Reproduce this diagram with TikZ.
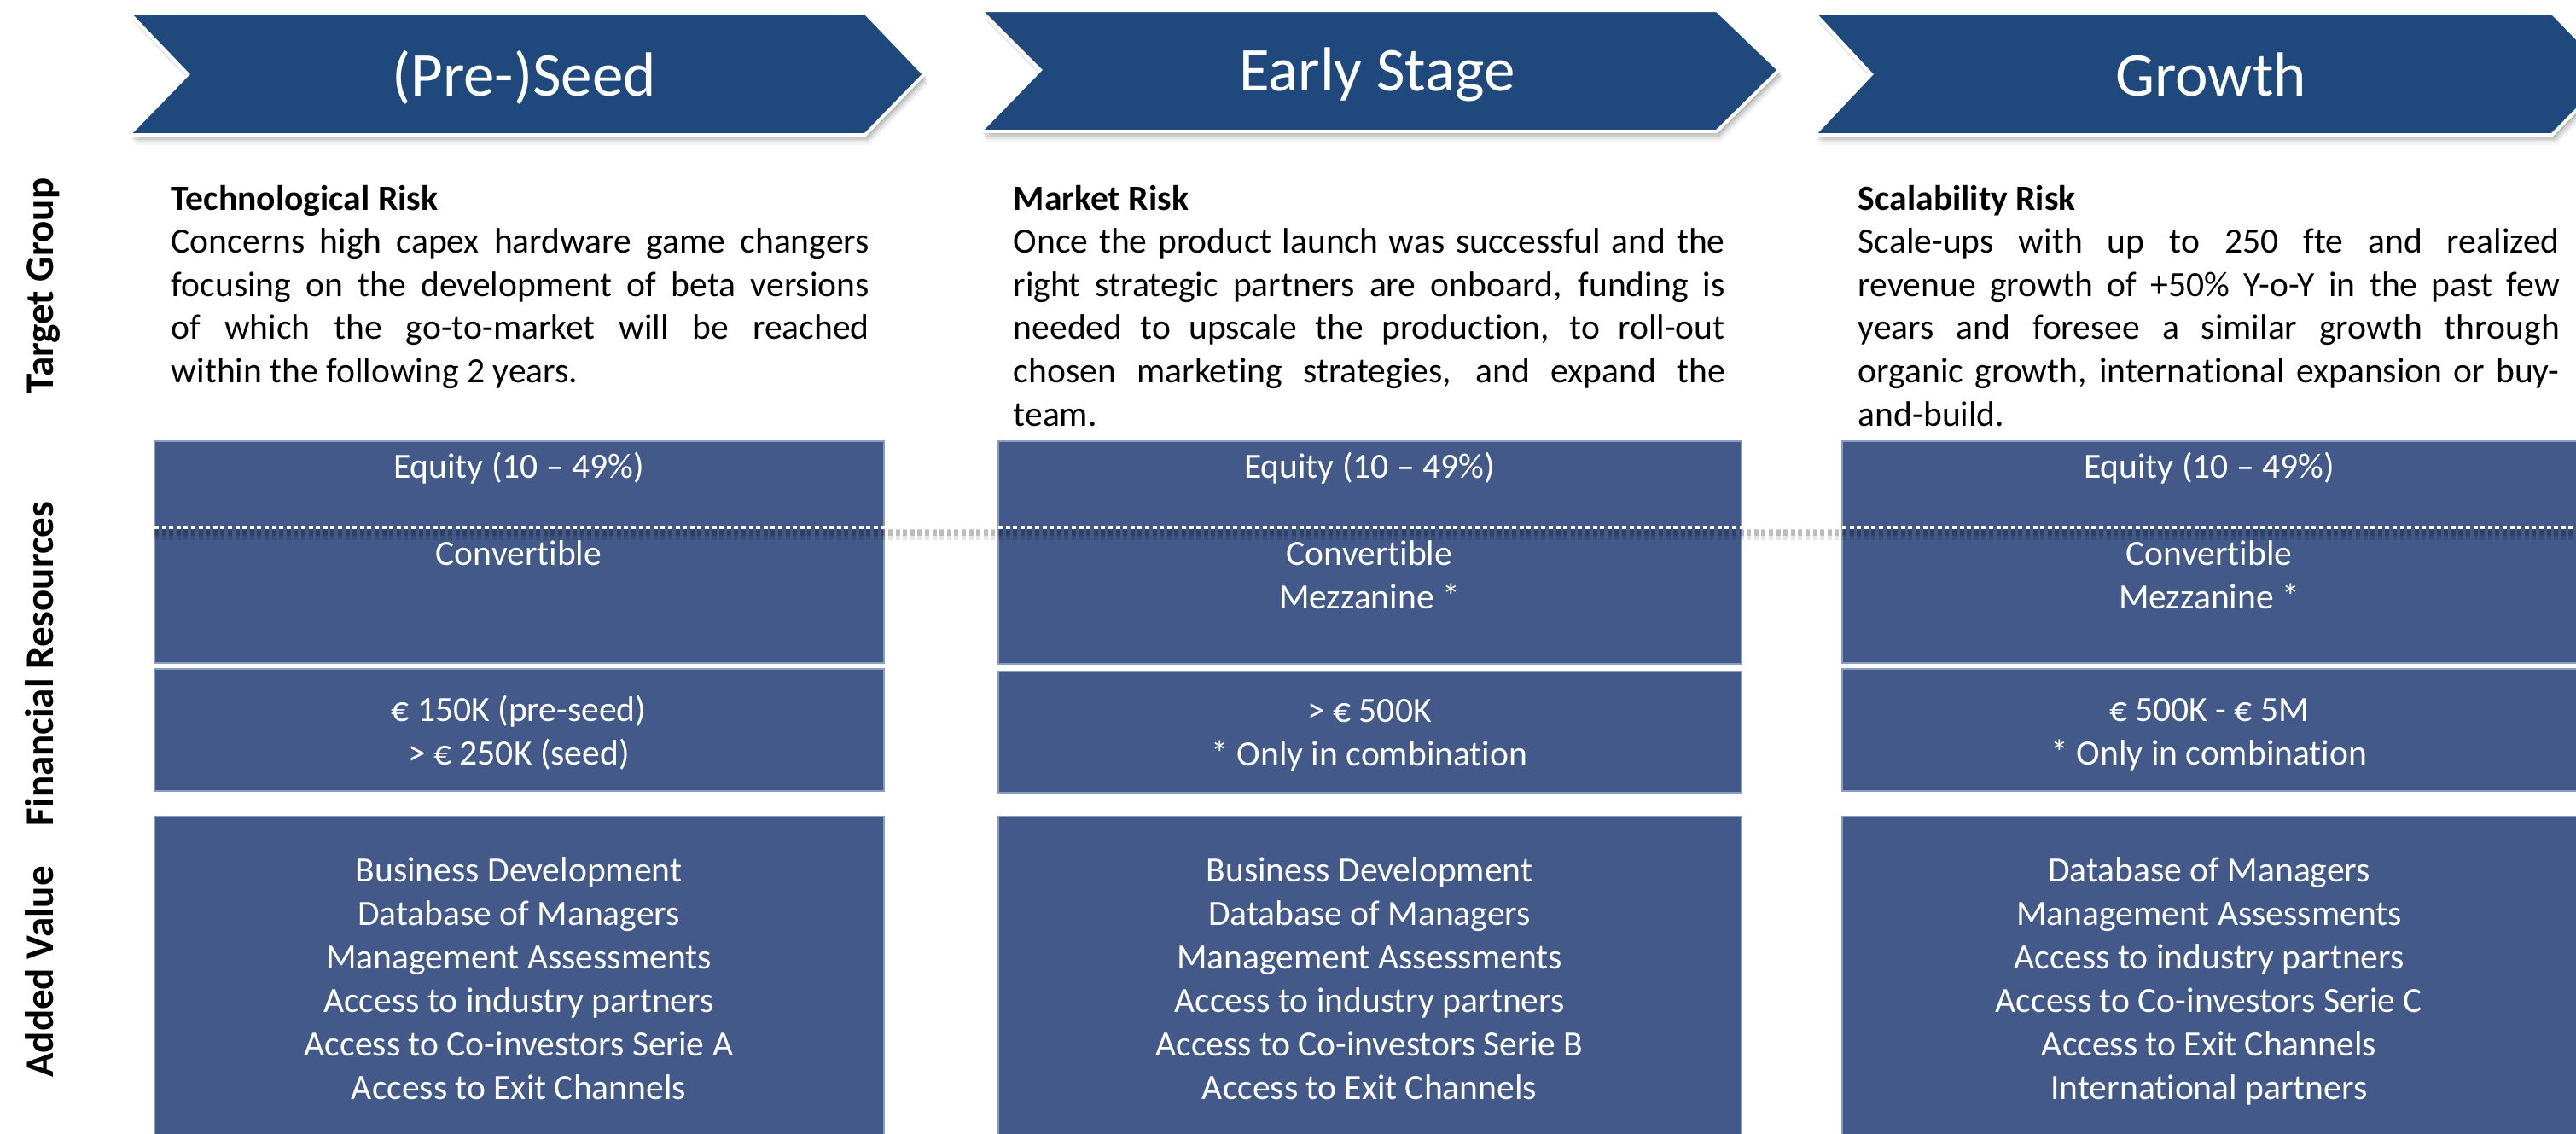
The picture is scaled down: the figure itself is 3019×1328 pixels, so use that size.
\documentclass[tikz,border=0pt]{standalone}
\usepackage{fontspec}
\setmainfont{Carlito}[Ligatures={NoCommon}]
\newlength{\upx}\setlength{\upx}{0.25pt}
\definecolor{chevblue}{HTML}{1F497D}
\definecolor{boxblue}{HTML}{425989}
\definecolor{boxline}{HTML}{8B9DC3}
\begin{document}
\begin{tikzpicture}[x=0.25pt,y=-0.25pt,
  chev/.style={fill=chevblue, draw=white, line width=1pt, line join=miter},
  chevshade/.style={fill=black},
  blk/.style={fill=boxblue, draw=boxline, line width=0.4pt},
  titletxt/.style={text=white, font=\fontsize{18.25}{20}\selectfont, inner sep=0, anchor=base},
  boxtxt/.style={text=white, font=\fontsize{10.4}{12}\selectfont, inner sep=0, anchor=base},
  bodytxt/.style={text=black, font=\fontsize{10.4}{12}\selectfont, inner sep=0, anchor=base west},
  headtxt/.style={text=black, font=\bfseries\fontsize{10.4}{12}\selectfont, inner sep=0, anchor=base west},
  sidelbl/.style={text=black, font=\bfseries\fontsize{11.75}{13}\selectfont, rotate=90, anchor=base, inner sep=0}]
\useasboundingbox (0,0) rectangle (3019,1328);
\clip (0,0) rectangle (3019,1328);

% ---------- chevron shadows ----------
\foreach \dx/\dy/\op in {2/3/0.13, 3/6/0.10, 4/9/0.07, 5/12/0.04} {
  \fill[chevshade, opacity=\op, shift={(\dx,\dy)}] (151,15) -- (1014,15) -- (1083,87) -- (1014,158) -- (151,158) -- (220,87) -- cycle;
  \fill[chevshade, opacity=\op, shift={(\dx,\dy)}] (1149,12) -- (2012,12) -- (2085,82) -- (2012,154) -- (1149,154) -- (1219,82) -- cycle;
  \fill[chevshade, opacity=\op, shift={(\dx,\dy)}] (2126,15) -- (2991,15) -- (3061,87) -- (2991,158) -- (2126,158) -- (2193,87) -- cycle;
}
% ---------- chevrons ----------
\draw[chev] (151,15) -- (1014,15) -- (1083,87) -- (1014,158) -- (151,158) -- (220,87) -- cycle;
\draw[chev] (1149,12) -- (2012,12) -- (2085,82) -- (2012,154) -- (1149,154) -- (1219,82) -- cycle;
\draw[chev] (2126,15) -- (2991,15) -- (3061,87) -- (2991,158) -- (2126,158) -- (2193,87) -- cycle;
\node[titletxt] (t1) at (614,112) {(Pre-)Seed};
\node[titletxt] (t2) at (1614,107) {Early Stage};
\node[titletxt] (t3) at (2591,112) {Growth};

% ---------- side labels ----------
\node[sidelbl] (lblA) at (63,335) {Target Group};
\node[sidelbl] (lblB) at (63,778) {Financial Resources};
\node[sidelbl] (lblC) at (63,1139) {Added Value};

% ---------- target group texts ----------
\node[headtxt] (h1) at (200,246) {Technological Risk};
\node[bodytxt] (a1) at (200,296.6) {\makebox[818\upx][s]{Concerns high capex hardware game changers}};
\node[bodytxt] (a2) at (200,347.2) {\makebox[818\upx][s]{focusing on the development of beta versions}};
\node[bodytxt] (a3) at (200,397.8) {\makebox[818\upx][s]{of which the go-to-market will be reached}};
\node[bodytxt] (a4) at (200,448.4) {within the following 2 years.};

\node[headtxt] (h2) at (1187,246) {Market Risk};
\node[bodytxt] (b1) at (1187,296.6) {\makebox[834\upx][s]{Once the product launch was successful and the}};
\node[bodytxt] (b2) at (1187,347.2) {\makebox[834\upx][s]{right strategic partners are onboard, funding is}};
\node[bodytxt] (b3) at (1187,397.8) {\makebox[834\upx][s]{needed to upscale the production, to roll-out}};
\node[bodytxt] (b4) at (1187,448.4) {\makebox[834\upx][s]{chosen marketing strategies, and expand the}};
\node[bodytxt] (b5) at (1187,499) {team.};

\node[headtxt] (h3) at (2177,246) {Scalability Risk};
\node[bodytxt] (c1) at (2177,296.6) {\makebox[822\upx][s]{Scale-ups with up to 250 fte and realized}};
\node[bodytxt] (c2) at (2177,347.2) {\makebox[822\upx][s]{revenue growth of +50\% Y-o-Y in the past few}};
\node[bodytxt] (c3) at (2177,397.8) {\makebox[822\upx][s]{years and foresee a similar growth through}};
\node[bodytxt] (c4) at (2177,448.4) {\makebox[822\upx][s]{organic growth, international expansion or buy-}};
\node[bodytxt] (c5) at (2177,499) {and-build.};

% ---------- boxes ----------
\draw[blk] (181,517) rectangle (1036,777);
\draw[blk] (181,784) rectangle (1036,927);
\draw[blk] (181,957) rectangle (1036,1340);
\draw[blk] (1170,517) rectangle (2041,778);
\draw[blk] (1170,787) rectangle (2041,929);
\draw[blk] (1170,957) rectangle (2041,1340);
\draw[blk] (2159,517) rectangle (3030,777);
\draw[blk] (2159,784) rectangle (3030,927);
\draw[blk] (2159,957) rectangle (3030,1340);

% ---------- dotted separator ----------
\draw[black, opacity=0.18, line width=1.8pt, dash pattern=on 1.25pt off 0.9pt] (181,624) -- (3019,624);
\draw[black, opacity=0.10, line width=3pt, dash pattern=on 1.25pt off 0.9pt] (181,627) -- (3019,627);
\draw[white, line width=1pt, dash pattern=on 1.25pt off 0.9pt] (181,618) -- (3019,618);

% ---------- box texts ----------
\node[boxtxt] (e1) at (608,560) {Equity (10 -- 49\%)};
\node[boxtxt] (v1) at (608,662) {Convertible};
\node[boxtxt] (m1a) at (608,845) {€ 150K (pre-seed)};
\node[boxtxt] (m1b) at (608,896) {> € 250K (seed)};

\node[boxtxt] (e2) at (1605,560) {Equity (10 -- 49\%)};
\node[boxtxt] (v2) at (1605,662) {Convertible};
\node[boxtxt] (z2) at (1605,713) {Mezzanine *};
\node[boxtxt] (m2a) at (1605,846) {> € 500K};
\node[boxtxt] (m2b) at (1605,897) {* Only in combination};

\node[boxtxt] (e3) at (2589,560) {Equity (10 -- 49\%)};
\node[boxtxt] (v3) at (2589,662) {Convertible};
\node[boxtxt] (z3) at (2589,713) {Mezzanine *};
\node[boxtxt] (m3a) at (2589,845) {€ 500K - € 5M};
\node[boxtxt] (m3b) at (2589,896) {* Only in combination};

% ---------- added value texts ----------
\node[boxtxt] (p1) at (608,1033) {Business Development};
\node[boxtxt] (p2) at (608,1084) {Database of Managers};
\node[boxtxt] (p3) at (608,1135) {Management Assessments};
\node[boxtxt] (p4) at (608,1186) {Access to industry partners};
\node[boxtxt] (p5) at (608,1237) {Access to Co-investors Serie A};
\node[boxtxt] (p6) at (608,1288) {Access to Exit Channels};

\node[boxtxt] (q1) at (1605,1033) {Business Development};
\node[boxtxt] (q2) at (1605,1084) {Database of Managers};
\node[boxtxt] (q3) at (1605,1135) {Management Assessments};
\node[boxtxt] (q4) at (1605,1186) {Access to industry partners};
\node[boxtxt] (q5) at (1605,1237) {Access to Co-investors Serie B};
\node[boxtxt] (q6) at (1605,1288) {Access to Exit Channels};

\node[boxtxt] (r1) at (2589,1033) {Database of Managers};
\node[boxtxt] (r2) at (2589,1084) {Management Assessments};
\node[boxtxt] (r3) at (2589,1135) {Access to industry partners};
\node[boxtxt] (r4) at (2589,1186) {Access to Co-investors Serie C};
\node[boxtxt] (r5) at (2589,1237) {Access to Exit Channels};
\node[boxtxt] (r6) at (2589,1288) {International partners};
\end{tikzpicture}
\end{document}
